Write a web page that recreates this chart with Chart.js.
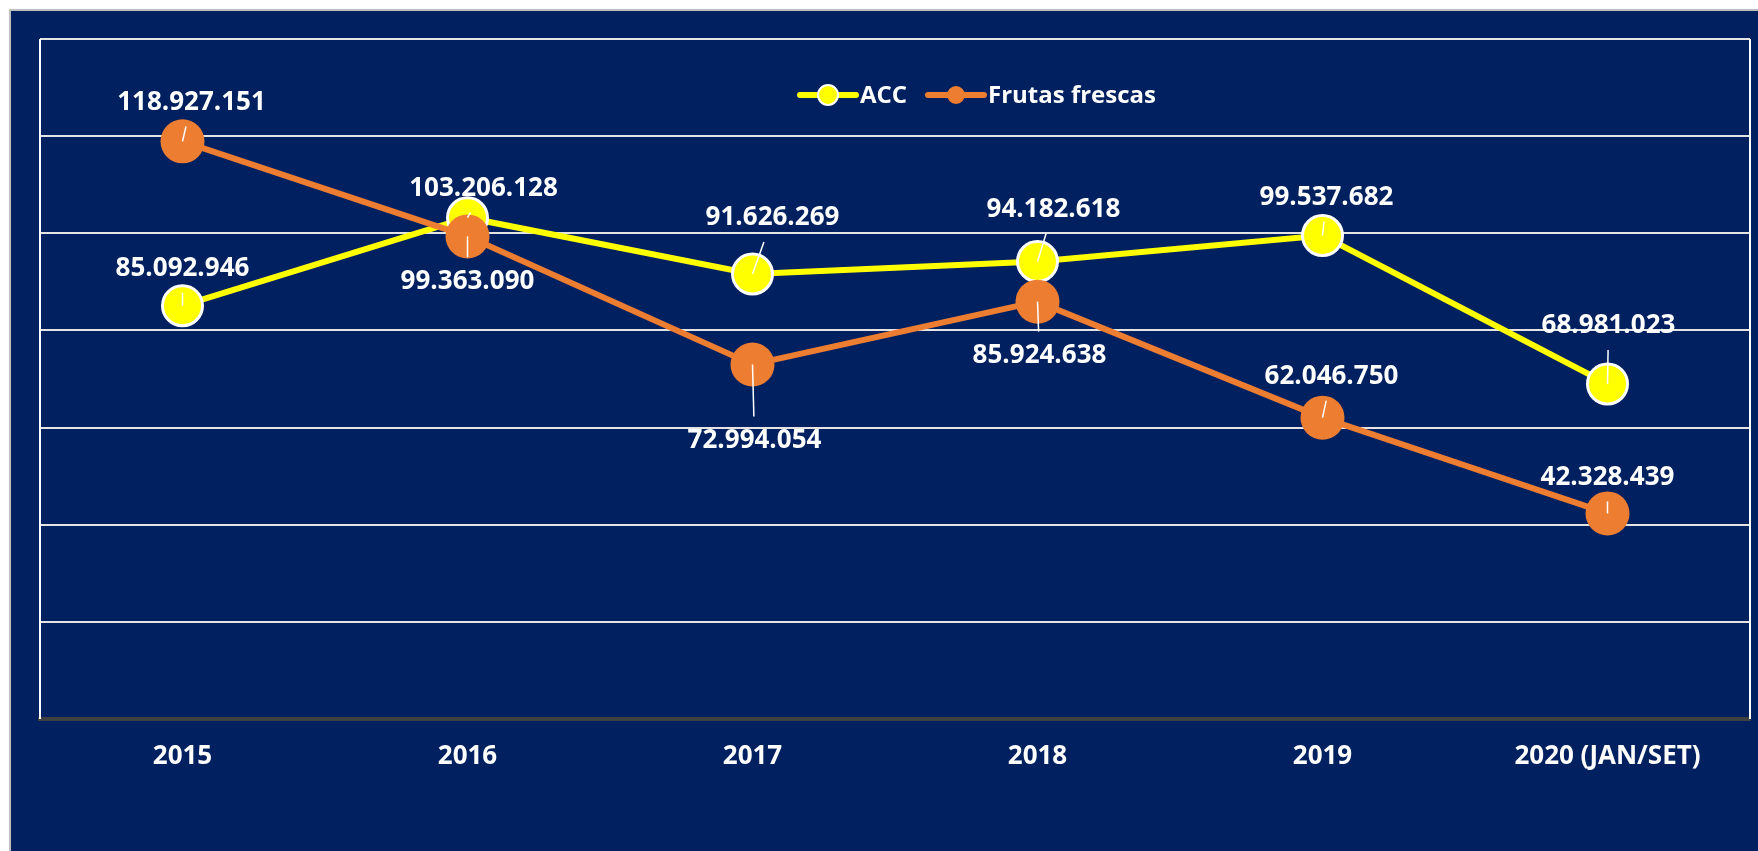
<!DOCTYPE html>
<html lang="pt">
<head>
  <meta charset="UTF-8" />
  <title>ACC x Frutas frescas</title>
  <script src="https://cdn.jsdelivr.net/npm/chart.js"></script>
  <style>
    body {
      margin: 0;
      background: #fff;
      width: 1758px;
      height: 851px;
      overflow: hidden;
    }
    #wrap {
      position: absolute;
      left: 9px;
      top: 9px;
      width: 1747px;
      height: 840px;
      background: #002060;
      border-top: 2px solid #bfbfbf;
      border-left: 2px solid #bfbfbf;
    }
  </style>
</head>
<body>
  <div id="wrap">
    <canvas id="chart" width="1747" height="840"></canvas>
  </div>

  <script>
    // dados
    const anos = ['2015', '2016', '2017', '2018', '2019', '2020 (JAN/SET)'];
    const acc = [85092946, 103206128, 91626269, 94182618, 99537682, 68981023];
    const frutasFrescas = [118927151, 99363090, 72994054, 85924638, 62046750, 42328439];

    // deslocamento dos rótulos em relação ao ponto (px)
    const accLabelOffset = [[0, -37], [16, -29], [20, -56], [16, -52], [4, -38], [1, -58]];
    const frutasLabelOffset = [[9, -39], [0, 45], [2, 76], [2, 54], [9, -41], [0, -36]];

    const FONT = "'Open Sans', sans-serif";
    const AMARELO = '#ffff00';
    const LARANJA = '#ed7d31';

    function fmt(n) {
      return String(n).replace(/\B(?=(\d{3})+(?!\d))/g, '.');
    }

    // borda da área de plotagem
    const plotBorder = {
      id: 'plotBorder',
      beforeDatasetsDraw(chart) {
        const { ctx, chartArea: a } = chart;
        ctx.save();
        ctx.strokeStyle = '#ffffff';
        ctx.lineWidth = 2;
        ctx.beginPath();
        ctx.moveTo(a.left, a.top);
        ctx.lineTo(a.left, a.bottom);
        ctx.moveTo(a.right, a.top);
        ctx.lineTo(a.right, a.bottom);
        ctx.stroke();
        ctx.restore();
      }
    };

    // rótulos de dados com linhas de chamada
    const dataLabels = {
      id: 'dataLabels',
      afterDatasetsDraw(chart) {
        const { ctx } = chart;
        const offsets = [accLabelOffset, frutasLabelOffset];
        ctx.save();
        ctx.font = 'bold 26px ' + FONT;
        ctx.textAlign = 'center';
        ctx.textBaseline = 'middle';
        chart.data.datasets.forEach((ds, di) => {
          const meta = chart.getDatasetMeta(di);
          meta.data.forEach((pt, i) => {
            const [dx, dy] = offsets[di][i];
            const lx = pt.x + dx, ly = pt.y + dy;
            // linha de chamada até a borda da caixa do rótulo
            const edge = dy < 0 ? ly + 24 : ly - 24;
            if (Math.abs(dy) > 28) {
              const t = (edge - pt.y) / dy;
              ctx.strokeStyle = '#ffffff';
              ctx.lineWidth = 1.5;
              ctx.beginPath();
              ctx.moveTo(pt.x, pt.y);
              ctx.lineTo(pt.x + dx * t, edge);
              ctx.stroke();
            }
            ctx.fillStyle = '#ffffff';
            ctx.fillText(fmt(ds.data[i]), lx, ly);
          });
        });
        ctx.restore();
      }
    };

    // legenda desenhada à mão (posição fora do centro, como no original)
    const customLegend = {
      id: 'customLegend',
      afterDraw(chart) {
        const { ctx, chartArea: a } = chart;
        const y = a.top + 56;
        const items = [
          { x: a.left + 760, text: 'ACC', color: AMARELO, border: '#ffffff', r: 10 },
          { x: a.left + 888, text: 'Frutas frescas', color: LARANJA, border: LARANJA, r: 8 }
        ];
        ctx.save();
        ctx.font = 'bold 24px ' + FONT;
        ctx.textBaseline = 'middle';
        ctx.textAlign = 'left';
        items.forEach(it => {
          ctx.strokeStyle = it.color;
          ctx.lineWidth = 6;
          ctx.lineCap = 'round';
          ctx.beginPath();
          ctx.moveTo(it.x, y);
          ctx.lineTo(it.x + 56, y);
          ctx.stroke();
          ctx.beginPath();
          ctx.arc(it.x + 28, y, it.r, 0, Math.PI * 2);
          ctx.fillStyle = it.color;
          ctx.fill();
          ctx.lineWidth = 2;
          ctx.strokeStyle = it.border;
          ctx.stroke();
          ctx.fillStyle = '#ffffff';
          ctx.fillText(it.text, it.x + 60, y + 1);
        });
        ctx.restore();
      }
    };

    new Chart(document.getElementById('chart'), {
      type: 'line',
      data: {
        labels: anos,
        datasets: [
          {
            label: 'ACC',
            data: acc,
            borderColor: AMARELO,
            backgroundColor: AMARELO,
            borderWidth: 6,
            pointRadius: 20,
            pointBorderWidth: 3,
            pointBorderColor: '#ffffff',
            pointBackgroundColor: AMARELO,
            tension: 0,
            order: 2
          },
          {
            label: 'Frutas frescas',
            data: frutasFrescas,
            borderColor: LARANJA,
            backgroundColor: LARANJA,
            borderWidth: 6,
            pointRadius: 22,
            pointBorderWidth: 0,
            pointBackgroundColor: LARANJA,
            tension: 0,
            order: 1
          }
        ]
      },
      options: {
        responsive: false,
        animation: false,
        layout: { autoPadding: false, padding: { left: 29, top: 28, right: 8, bottom: 79 } },
        plugins: {
          legend: { display: false },
          tooltip: { enabled: false }
        },
        scales: {
          x: {
            offset: true,
            grid: { display: false, drawTicks: false },
            border: { display: true, color: '#404040', width: 4 },
            ticks: {
              color: '#ffffff',
              padding: 22,
              maxRotation: 0,
              font: { family: FONT, size: 26, weight: 'bold' }
            },
            afterFit(scale) {
              scale.paddingLeft = 0;
              scale.paddingRight = 0;
              scale.height = 53;
            }
          },
          y: {
            min: 0,
            max: 140000000,
            ticks: { display: false, stepSize: 20000000 },
            grid: { color: '#e4e4e4', lineWidth: 2, drawTicks: false },
            border: { display: false },
            afterFit(scale) {
              scale.width = 0;
            }
          }
        }
      },
      plugins: [plotBorder, dataLabels, customLegend]
    });
  </script>
</body>
</html>
